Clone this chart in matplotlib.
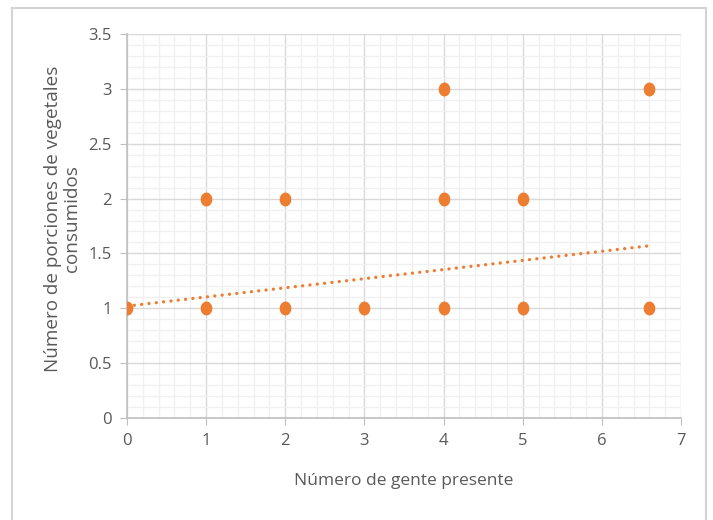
import numpy as np
import matplotlib.pyplot as plt
from matplotlib.patches import Rectangle
from matplotlib.ticker import MultipleLocator

# Personas presentes vs. porciones de vegetales consumidas
gente = [0, 1, 1, 2, 2, 3, 4, 4, 4, 5, 5, 6.6, 6.6]
porciones = [1, 1, 2, 1, 2, 1, 1, 2, 3, 1, 2, 1, 3]

# Línea de tendencia lineal (intercepto y pendiente)
tend_b = 1.02
tend_m = 0.0833
tend_x = [0, 6.6]

naranja = '#ED7D31'
gris_txt = '#595959'

plt.rcParams['font.family'] = ['Open Sans', 'DejaVu Sans']

fig = plt.figure(figsize=(7.13, 5.20), dpi=100)
ax = fig.add_axes([127 / 713, 1 - 418 / 520, (681 - 127) / 713, (418 - 34) / 520])

# Borde del área del gráfico
fig.patches.append(Rectangle((12 / 713, -0.05), (706 - 12) / 713, 1 - 8 / 520 + 0.05,
                             transform=fig.transFigure, fill=False,
                             edgecolor='#d4d4d4', linewidth=1.5))

# marcador elíptico, un poco más alto que ancho
t = np.linspace(0, 2 * np.pi, 60)
elipse = np.column_stack([0.42 * np.cos(t), 0.5 * np.sin(t)])

ax.scatter(gente, porciones, s=100, marker=elipse, color=naranja, zorder=3, linewidths=0)

tx = np.array(tend_x)
ax.plot(tx, tend_b + tend_m * tx, linestyle=(0, (0.01, 2.2)), dash_capstyle='round',
        color=naranja, linewidth=2.4, zorder=2)

ax.set_xlim(0, 7)
ax.set_ylim(0, 3.5)
ax.xaxis.set_major_locator(MultipleLocator(1))
ax.xaxis.set_minor_locator(MultipleLocator(0.2))
ax.yaxis.set_major_locator(MultipleLocator(0.5))
ax.yaxis.set_minor_locator(MultipleLocator(0.1))
ax.set_yticks([0, 0.5, 1, 1.5, 2, 2.5, 3, 3.5])
ax.set_yticklabels(['0', '0.5', '1', '1.5', '2', '2.5', '3', '3.5'])

ax.grid(which='minor', color='#f0f0f0', linewidth=1)
ax.grid(which='major', color='#d9d9d9', linewidth=1)
ax.set_axisbelow(True)

for s in ['top', 'right']:
    ax.spines[s].set_visible(False)
for s in ['left', 'bottom']:
    ax.spines[s].set_color('#bfbfbf')
    ax.spines[s].set_linewidth(1.2)

ax.tick_params(which='major', length=5, color='#bfbfbf', labelsize=12,
               labelcolor=gris_txt, pad=6)
ax.tick_params(which='minor', length=0)

ax.set_xlabel('Número de gente presente', fontsize=12.5, color=gris_txt, labelpad=17)
ax.set_ylabel('Número de porciones de vegetales\nconsumidos', fontsize=13.6,
              color=gris_txt, linespacing=1.05)
ax.yaxis.set_label_coords(-0.083, 0.52)

fig.savefig('out.png', dpi=100)
